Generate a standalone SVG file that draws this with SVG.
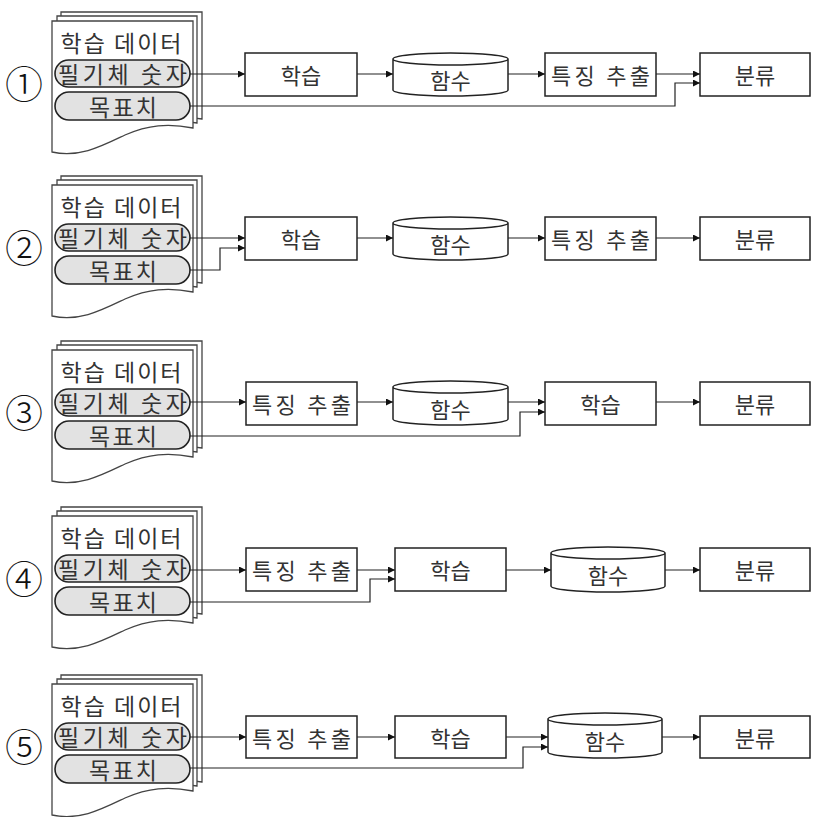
<svg xmlns="http://www.w3.org/2000/svg" width="815" height="817" viewBox="0 0 815 817">
<defs>
<style>
text{font-family:"Noto Sans CJK KR","Noto Sans CJK SC",sans-serif;fill:#333;dominant-baseline:central;text-anchor:middle}
.num{font-size:38px;fill:#111;font-weight:300}
.doc{fill:#fff;stroke:#444;stroke-width:1.3}
.pill{fill:#e2e2e2;stroke:#222;stroke-width:1.6}
.box{fill:#fff;stroke:#222;stroke-width:1.5}
.dt{font-size:23px}
.bt{font-size:22px}
.ln{fill:none;stroke:#222;stroke-width:1.2;marker-end:url(#ah)}
</style>
<marker id="ah" viewBox="0 0 10 10" refX="10" refY="5" markerWidth="8" markerHeight="7" markerUnits="userSpaceOnUse" orient="auto">
<path d="M0,0 L10,5 L0,10 Z" fill="#111"/>
</marker>
<g id="docshape">
<path class="doc" d="M61,12 H202 V119 C178,115 158,117 138,126 C115,137 90,146 61,143 Z"/>
<path class="doc" d="M57,16 H197 V123 C174,119 154,121 133,130 C110,141 86,150 57,147 Z"/>
<path class="doc" d="M52,21 H193 V128 C168,123 148,125 125,135 C102,146 80,158 52,152 Z"/>
<text class="dt" x="121" y="42" textLength="121" lengthAdjust="spacing">학습 데이터</text>
<rect class="pill" x="55" y="60" width="135" height="27" rx="13.5"/>
<text class="dt" x="122.5" y="73" textLength="129" lengthAdjust="spacing">필기체 숫자</text>
<rect class="pill" x="55" y="92" width="135" height="28" rx="14"/>
<text class="dt" x="123" y="105.5" textLength="68" lengthAdjust="spacing">목표치</text>
</g>
</defs>

<!-- Row 1 -->
<g id="row1-doc"><use href="#docshape"/><text class="num" x="24" y="81">①</text></g>
<g id="row1-learn"><rect class="box" x="245" y="53" width="112" height="43"/><text class="bt" x="301" y="74">학습</text></g>
<g id="row1-func"><path class="box" d="M393,59 A57.5,6 0 0 1 508,59 V90 A57.5,6 0 0 1 393,90 Z M393,59 A57.5,6 0 0 0 508,59"/><text class="bt" x="450.5" y="79">함수</text></g>
<g id="row1-feat"><rect class="box" x="545" y="53" width="111" height="43"/><text class="bt" x="600.5" y="74" textLength="99" lengthAdjust="spacing">특징 추출</text></g>
<g id="row1-class"><rect class="box" x="700" y="53" width="110" height="43"/><text class="bt" x="755" y="74">분류</text></g>

<!-- Row 2 -->
<g id="row2-doc" transform="translate(0,164)"><use href="#docshape"/><text class="num" x="24" y="81">②</text></g>
<g id="row2-learn"><rect class="box" x="245" y="217" width="112" height="43"/><text class="bt" x="301" y="238">학습</text></g>
<g id="row2-func"><path class="box" d="M393,223 A57.5,6 0 0 1 508,223 V254 A57.5,6 0 0 1 393,254 Z M393,223 A57.5,6 0 0 0 508,223"/><text class="bt" x="450.5" y="243">함수</text></g>
<g id="row2-feat"><rect class="box" x="545" y="217" width="111" height="43"/><text class="bt" x="600.5" y="238" textLength="99" lengthAdjust="spacing">특징 추출</text></g>
<g id="row2-class"><rect class="box" x="700" y="217" width="110" height="43"/><text class="bt" x="755" y="238">분류</text></g>

<!-- Row 3 -->
<g id="row3-doc" transform="translate(0,329)"><use href="#docshape"/><text class="num" x="24" y="81">③</text></g>
<g id="row3-feat"><rect class="box" x="246" y="382" width="111" height="43"/><text class="bt" x="301.5" y="403" textLength="99" lengthAdjust="spacing">특징 추출</text></g>
<g id="row3-func"><path class="box" d="M393,387 A57.5,6 0 0 1 508,387 V419 A57.5,6 0 0 1 393,419 Z M393,387 A57.5,6 0 0 0 508,387"/><text class="bt" x="450.5" y="408">함수</text></g>
<g id="row3-learn"><rect class="box" x="545" y="382" width="111" height="43"/><text class="bt" x="600.5" y="403">학습</text></g>
<g id="row3-class"><rect class="box" x="700" y="382" width="110" height="43"/><text class="bt" x="755" y="403">분류</text></g>

<!-- Row 4 -->
<g id="row4-doc" transform="translate(0,495)"><use href="#docshape"/><text class="num" x="24" y="81">④</text></g>
<g id="row4-feat"><rect class="box" x="246" y="548" width="111" height="43"/><text class="bt" x="301.5" y="569" textLength="99" lengthAdjust="spacing">특징 추출</text></g>
<g id="row4-learn"><rect class="box" x="395" y="548" width="111" height="43"/><text class="bt" x="450.5" y="569">학습</text></g>
<g id="row4-func"><path class="box" d="M551,553 A57,6 0 0 1 665,553 V586 A57,6 0 0 1 551,586 Z M551,553 A57,6 0 0 0 665,553"/><text class="bt" x="608" y="574">함수</text></g>
<g id="row4-class"><rect class="box" x="700" y="548" width="110" height="43"/><text class="bt" x="755" y="569">분류</text></g>

<!-- Row 5 -->
<g id="row5-doc" transform="translate(0,663)"><use href="#docshape"/><text class="num" x="24" y="81">⑤</text></g>
<g id="row5-feat"><rect class="box" x="246" y="716" width="111" height="42"/><text class="bt" x="301.5" y="736.5" textLength="99" lengthAdjust="spacing">특징 추출</text></g>
<g id="row5-learn"><rect class="box" x="395" y="716" width="111" height="42"/><text class="bt" x="450.5" y="736.5">학습</text></g>
<g id="row5-func"><path class="box" d="M548,719 A57,6 0 0 1 662,719 V752 A57,6 0 0 1 548,752 Z M548,719 A57,6 0 0 0 662,719"/><text class="bt" x="605" y="740">함수</text></g>
<g id="row5-class"><rect class="box" x="700" y="716" width="110" height="42"/><text class="bt" x="755" y="736.5">분류</text></g>

<g id="connectors">
<!-- row 1 -->
<path class="ln" d="M190,74 H245"/>
<path class="ln" d="M357,74 H393"/>
<path class="ln" d="M508,74 H545"/>
<path class="ln" d="M656,74 H700"/>
<path class="ln" d="M190,106 H675 V83 H700"/>
<!-- row 2 -->
<path class="ln" d="M190,238 H245"/>
<path class="ln" d="M190,270 H220 V248 H245"/>
<path class="ln" d="M357,238 H393"/>
<path class="ln" d="M508,238 H545"/>
<path class="ln" d="M656,238 H700"/>
<!-- row 3 -->
<path class="ln" d="M190,402 H246"/>
<path class="ln" d="M357,402 H393"/>
<path class="ln" d="M508,402 H545"/>
<path class="ln" d="M190,436 H520 V412 H545"/>
<path class="ln" d="M656,402 H700"/>
<!-- row 4 -->
<path class="ln" d="M190,570 H246"/>
<path class="ln" d="M357,570 H395"/>
<path class="ln" d="M190,602 H370 V579 H395"/>
<path class="ln" d="M506,570 H551"/>
<path class="ln" d="M665,570 H700"/>
<!-- row 5 -->
<path class="ln" d="M190,737 H246"/>
<path class="ln" d="M357,737 H395"/>
<path class="ln" d="M506,737 H548"/>
<path class="ln" d="M190,768 H523 V747 H548"/>
<path class="ln" d="M662,737 H700"/>
</g>
</svg>
